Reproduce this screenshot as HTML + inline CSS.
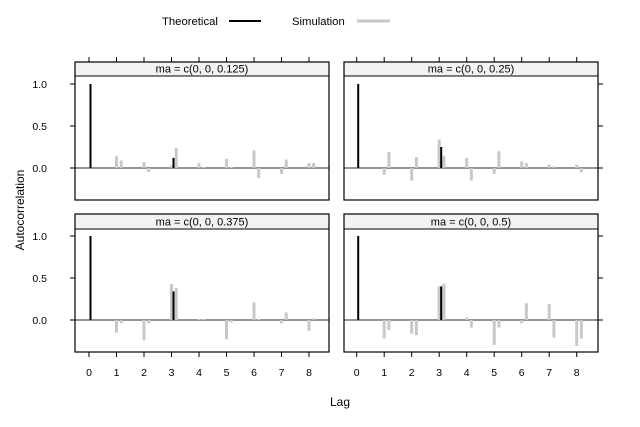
<!DOCTYPE html>
<html><head><meta charset="utf-8"><style>
body{margin:0;background:#fff;width:640px;height:427px;overflow:hidden}
svg{display:block;font-family:"Liberation Sans",sans-serif}
</style></head><body>
<svg id="s" width="640" height="427" viewBox="0 0 640 427" xmlns="http://www.w3.org/2000/svg">
<text x="162" y="25" font-size="11.3">Theoretical</text>
<line x1="229" y1="21" x2="261" y2="21" stroke="#000" stroke-width="2"/>
<text x="292" y="25" font-size="11.3">Simulation</text>
<line x1="357" y1="21" x2="390" y2="21" stroke="#c8c8c8" stroke-width="3"/>
<text x="24" y="210" font-size="12" text-anchor="middle" transform="rotate(-90 24 210)">Autocorrelation</text>
<text x="340" y="406" font-size="12" text-anchor="middle">Lag</text>
</svg>
<script>
var s=document.getElementById('s'),NS='http://www.w3.org/2000/svg';
function el(t,a,txt){var e=document.createElementNS(NS,t);for(var k in a)e.setAttribute(k,a[k]);if(txt!=null)e.textContent=txt;s.appendChild(e);return e;}
var panels=[
{L:75,R:329,top:62,sb:76,bot:200,z:168,u:84,x0:89,lab:"ma = c(0, 0, 0.125)",th:0.12,
 sim:[[0.14,0.09],[0.07,-0.05],[0.03,0.24],[0.06,0.01],[0.11,0.01],[0.21,-0.12],[-0.07,0.10],[0.06,0.06]],left:1,topt:1},
{L:344,R:598,top:62,sb:76,bot:200,z:168,u:84,x0:356.7,lab:"ma = c(0, 0, 0.25)",th:0.25,
 sim:[[-0.08,0.19],[-0.15,0.13],[0.34,0.14],[0.12,-0.15],[-0.07,0.2],[0.08,0.06],[0.04,0.02],[0.04,-0.05]],right:1,topt:1},
{L:75,R:329,top:214,sb:229,bot:352,z:320,u:84,x0:89,lab:"ma = c(0, 0, 0.375)",th:0.34,
 sim:[[-0.15,-0.04],[-0.24,-0.04],[0.43,0.38],[0.01,0.01],[-0.23,-0.03],[0.21,0.01],[-0.04,0.09],[-0.13,0.02]],left:1,bt:1},
{L:344,R:598,top:214,sb:229,bot:352,z:320,u:84,x0:356.7,lab:"ma = c(0, 0, 0.5)",th:0.40,
 sim:[[-0.22,-0.12],[-0.16,-0.18],[0.40,0.43],[0.03,-0.09],[-0.30,-0.09],[-0.04,0.2],[0.19,-0.21],[-0.31,-0.22]],right:1,bt:1}
];
panels.forEach(function(p){
 var d=27.5;
 el('rect',{x:p.L,y:p.top,width:p.R-p.L,height:p.sb-p.top,fill:'#f2f2f2',stroke:'#000','stroke-width':1});
 el('text',{x:(p.L+p.R)/2,y:p.sb-3.5,'font-size':11,'text-anchor':'middle'},p.lab);
 el('line',{x1:p.L,y1:p.z,x2:p.R,y2:p.z,stroke:'#555','stroke-width':1.2});
 p.sim.forEach(function(v,i){
  var lx=p.x0+(i+1)*d;
  [[lx,v[0]],[lx+4.7,v[1]]].forEach(function(b){
   var y=p.z-b[1]*p.u;
   el('line',{x1:b[0],y1:p.z,x2:b[0],y2:y,stroke:'#c8c8c8','stroke-width':3});
  });
 });
 el('line',{x1:p.x0+1.5,y1:p.z,x2:p.x0+1.5,y2:p.z-p.u,stroke:'#000','stroke-width':2});
 var t3=p.x0+3*d+2;
 el('line',{x1:t3,y1:p.z,x2:t3,y2:p.z-p.th*p.u,stroke:'#000','stroke-width':2});
 el('rect',{x:p.L,y:p.top,width:p.R-p.L,height:p.bot-p.top,fill:'none',stroke:'#000','stroke-width':1.2});
 for(var i=0;i<=8;i++){var x=p.x0+i*d;
  if(p.topt)el('line',{x1:x,y1:p.top-5,x2:x,y2:p.top,stroke:'#000'});
  if(p.bt){el('line',{x1:x,y1:p.bot,x2:x,y2:p.bot+5,stroke:'#000'});
   el('text',{x:x,y:p.bot+24,'font-size':10.5,'text-anchor':'middle'},String(i));}
 }
 [1,0.5,0].forEach(function(v){var y=p.z-v*p.u;
  if(p.left){el('line',{x1:p.L-5,y1:y,x2:p.L,y2:y,stroke:'#000'});
   el('text',{x:p.L-28,y:y+4,'font-size':10.5,'text-anchor':'end'},v.toFixed(1));}
  if(p.right)el('line',{x1:p.R,y1:y,x2:p.R+5,y2:y,stroke:'#000'});
 });
});
</script>
</body></html>
